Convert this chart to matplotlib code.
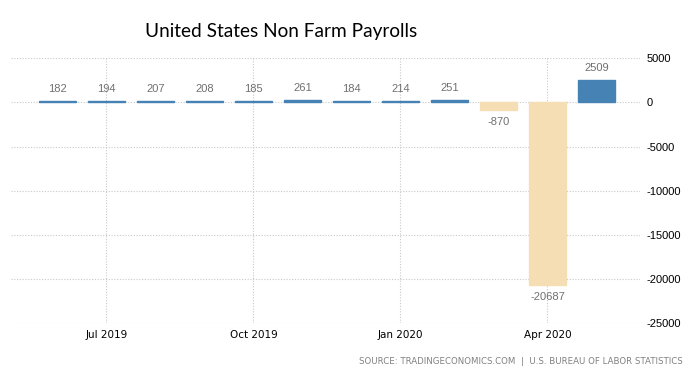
"""United States Non Farm Payrolls, monthly change (thousands)."""
import matplotlib

matplotlib.use("Agg")
import matplotlib.pyplot as plt  # noqa: E402

months = ["Jun 2019", "Jul 2019", "Aug 2019", "Sep 2019", "Oct 2019", "Nov 2019",
          "Dec 2019", "Jan 2020", "Feb 2020", "Mar 2020", "Apr 2020", "May 2020"]
payrolls = [182, 194, 207, 208, 185, 261, 184, 214, 251, -870, -20687, 2509]
tick_months = ["Jul 2019", "Oct 2019", "Jan 2020", "Apr 2020"]
y_ticks = [5000, 0, -5000, -10000, -15000, -20000, -25000]

_POS = "#4682b4"
_NEG = "#f5deb3"

fig = plt.figure(figsize=(6.9, 3.81), dpi=100)
ax = fig.add_axes([11 / 690, 1 - 323 / 381, 629 / 690, (323 - 58.3) / 381])

x = list(range(len(months)))
colors = [_POS if v >= 0 else _NEG for v in payrolls]
# small positive bars are drawn with an edge so they stay visible as a line
ax.bar(x, payrolls, width=0.74, color=colors, edgecolor=colors, linewidth=1.0, zorder=3)

for xi, v in zip(x, payrolls):
    if v >= 0:
        ax.annotate(str(v), (xi, v), xytext=(0, 5), textcoords="offset points",
                    ha="center", va="bottom", fontsize=8, color="#707070",
                    family="Liberation Sans")
    else:
        ax.annotate(str(v), (xi, v), xytext=(0, -5), textcoords="offset points",
                    ha="center", va="top", fontsize=8, color="#707070",
                    family="Liberation Sans")

ax.set_xlim(-0.949, 11.89)
ax.set_ylim(-25000, 5000)

ax.set_xticks([months.index(m) for m in tick_months])
ax.set_xticklabels(tick_months, fontsize=7.5, color="#000000", family="DejaVu Sans")
ax.set_yticks(y_ticks)
ax.set_yticklabels([str(t) for t in y_ticks], fontsize=8, family="Liberation Sans")
ax.yaxis.tick_right()
ax.tick_params(axis="both", length=0)
ax.tick_params(axis="y", pad=5)
ax.tick_params(axis="x", pad=5)

ax.grid(True, axis="both", linestyle=(0, (1, 1.5)), color="#c8c8c8", linewidth=0.8, zorder=0)
for s in ax.spines.values():
    s.set_visible(False)

fig.text(145 / 690, 1 - 31 / 381, "United States Non Farm Payrolls", fontsize=13.7,
         family="Lato", ha="left", va="center", color="#000000")
fig.text(683 / 690, 1 - 362 / 381,
         "SOURCE: TRADINGECONOMICS.COM  |  U.S. BUREAU OF LABOR STATISTICS",
         fontsize=6.2, family="DejaVu Sans", ha="right", va="center", color="#808080")

fig.savefig("out.png", dpi=100)
